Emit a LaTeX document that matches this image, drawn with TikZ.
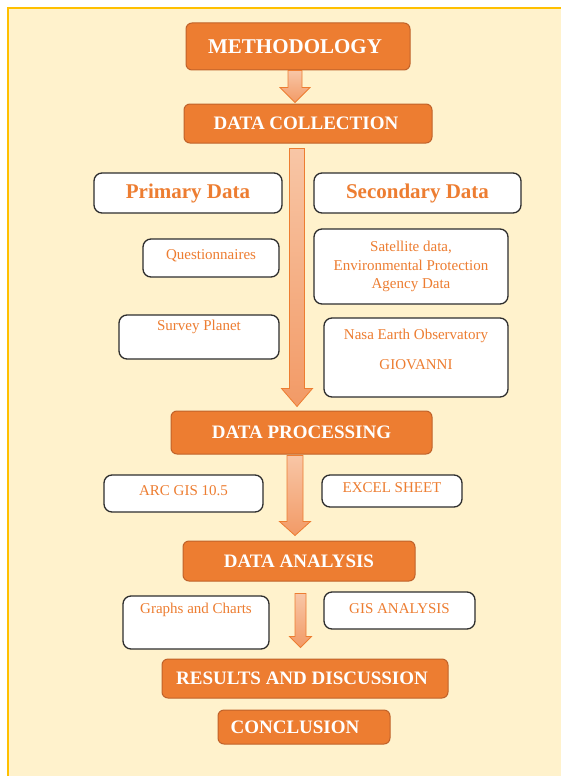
\documentclass[tikz,border=0pt]{standalone}
\usepackage{fontspec}
\setmainfont{Liberation Serif}
\usetikzlibrary{calc}
\definecolor{bgfill}{HTML}{FFF2CC}
\definecolor{bgline}{HTML}{FFC000}
\definecolor{orfill}{HTML}{ED7D31}
\definecolor{orline}{HTML}{C0622A}
\definecolor{artop}{HTML}{F8C6A6}
\definecolor{arbot}{HTML}{F29A66}
\definecolor{wline}{HTML}{2E2E2E}
\newcommand\blockarrow[8]{%
  \path[barrow] let \p1=($(#1)+(0,#2)$), \p2=($(#3)+(0,-#4)$) in
  ({#5pt-#6pt},\y1) -- ({#5pt+#6pt},\y1) -- ({#5pt+#6pt},\y2+#8pt) --
  ({#5pt+#7pt},\y2+#8pt) -- (#5pt,\y2) -- ({#5pt-#7pt},\y2+#8pt) --
  ({#5pt-#6pt},\y2+#8pt) -- cycle;}
\begin{document}
\begin{tikzpicture}[x=1pt,y=-1pt,
  obox/.style={draw=orline, line width=1pt, fill=orfill, rounded corners=6pt,
    text=white, font=\bfseries\fontsize{19}{22}\selectfont, inner sep=0pt},
  wbox/.style={draw=wline, line width=1.3pt, fill=white, rounded corners=8pt,
    text=orfill, font=\fontsize{15}{18.5}\selectfont, inner sep=0pt, align=center},
  wtext/.style={text=orfill, font=\fontsize{15}{18.5}\selectfont, inner sep=0pt, align=center},
  barrow/.style={draw=orfill, line width=0.8pt, top color=artop, bottom color=arbot}]
\useasboundingbox (0,0) rectangle (560,776);
\fill[white] (0,0) rectangle (560,776);
\draw[bgline, fill=bgfill, line width=1.5pt] (8,8) rectangle (575,790);

\node[obox, minimum width=224pt, minimum height=47pt, font=\bfseries\fontsize{21}{24}\selectfont] (meth) at (298,46.5) {METHODOLOGY\hspace*{6pt}};
\node[obox, minimum width=248pt, minimum height=39pt] (dc) at (308,123.5) {DATA COLLECTION\hspace*{4pt}};

\node[wbox, minimum width=188pt, minimum height=40pt, font=\bfseries\fontsize{21}{24}\selectfont] (prim) at (188,193) {Primary Data};
\node[wbox, minimum width=207pt, minimum height=40pt, font=\bfseries\fontsize{21}{24}\selectfont] (sec) at (417.5,193) {Secondary Data};
\node[wbox, minimum width=136pt, minimum height=38pt] (quest) at (211,258) {};
\node[wtext] (questt) at ($(quest.center)+(0,-2)$) {Questionnaires};
\node[wbox, minimum width=194pt, minimum height=75pt] (sat) at (411,266.5) {Satellite data,\\Environmental Protection\\Agency Data};
\node[wbox, minimum width=160pt, minimum height=44pt] (surv) at (199,337) {};
\node[wtext] (survt) at ($(surv.north)+(0,13)$) {Survey Planet};
\node[wbox, minimum width=184pt, minimum height=79pt] (nasa) at (416,357.5) {};
\node[wtext] (nasat) at ($(nasa.north)+(0,19)$) {Nasa Earth Observatory};
\node[wtext] (giov) at ($(nasa.north)+(0,47)$) {GIOVANNI};

\node[obox, minimum width=261pt, minimum height=43pt] (dp) at (301.5,432.5) {DATA PROCESSING};
\node[wbox, minimum width=159pt, minimum height=37pt] (arc) at (183.5,493.5) {};
\node[wtext] (arct) at ($(arc.center)+(0,-3)$) {ARC GIS 10.5};
\node[wbox, minimum width=140pt, minimum height=32pt] (excel) at (392,491) {};
\node[wtext] (excelt) at ($(excel.center)+(0,-3)$) {EXCEL SHEET};

\node[obox, minimum width=232pt, minimum height=40pt] (da) at (299,561) {DATA ANALYSIS};
\node[wbox, minimum width=146pt, minimum height=53pt] (graphs) at (196,622.5) {};
\node[wtext] (graphst) at ($(graphs.north)+(0,15)$) {Graphs and Charts};
\node[wbox, minimum width=151pt, minimum height=37pt] (gis) at (399.5,610.5) {};
\node[wtext] (gist) at ($(gis.center)+(0,-2)$) {GIS ANALYSIS};

\node[obox, minimum width=286pt, minimum height=39pt] (res) at (305,678.5) {RESULTS AND DISCUSSION\hspace*{6pt}};
\node[obox, minimum width=172pt, minimum height=34pt] (conc) at (304,727) {CONCLUSION\hspace*{18pt}};

\blockarrow{meth.south}{0}{dc.north}{1}{295}{7}{15}{15}
\blockarrow{dc.south}{5}{dp.north}{4}{297}{7.5}{15.5}{18}
\blockarrow{dp.south}{1}{da.north}{5}{295}{8}{15.5}{14}
\blockarrow{da.south}{12}{res.north}{11}{300.5}{5.5}{11}{11}
\end{tikzpicture}
\end{document}
